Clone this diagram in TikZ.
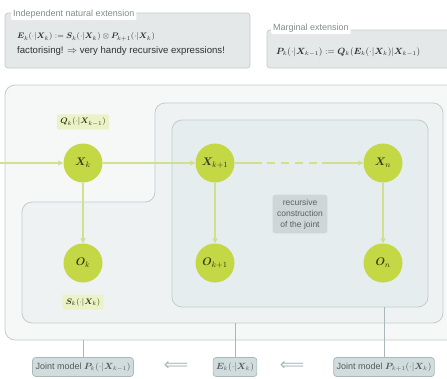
\documentclass[tikz,border=0pt]{standalone}
\usepackage{amsmath,bm}
\usepackage{fontspec}
\setmainfont{Liberation Sans}
\newfontfamily\symfont{DejaVu Sans}
\usetikzlibrary{arrows.meta}

\definecolor{boxline}{RGB}{196,204,204}
\definecolor{outerfill}{RGB}{246,247,247}
\definecolor{midfill}{RGB}{238,242,242}
\definecolor{innerfill}{RGB}{229,237,238}
\definecolor{topfill}{RGB}{228,232,232}
\definecolor{nodegreen}{RGB}{196,216,70}
\definecolor{nodetext}{RGB}{48,58,20}
\definecolor{flowgreen}{RGB}{208,224,140}
\definecolor{tagfill}{RGB}{236,242,200}
\definecolor{notefill}{RGB}{206,214,216}
\definecolor{notetext}{RGB}{90,98,100}
\definecolor{jointfill}{RGB}{208,220,222}
\definecolor{jointline}{RGB}{170,184,186}
\definecolor{tabtext}{RGB}{130,140,140}
\definecolor{bodytext}{RGB}{45,50,50}

\newcommand{\vX}{\bm{X}}
\newcommand{\vO}{\bm{O}}
\newcommand{\vE}{\bm{E}}
\newcommand{\vS}{\bm{S}}
\newcommand{\vP}{\bm{P}}
\newcommand{\vQ}{\bm{Q}}

\begin{document}
\begin{tikzpicture}[x=1pt,y=-1pt,
  frame/.style={draw=boxline, line width=0.8pt, rounded corners=10pt},
  panel/.style={draw=boxline, line width=0.7pt, fill=topfill, rounded corners=3pt},
  tab/.style={fill=white, rounded corners=2pt, inner sep=2pt, text=tabtext,
    font=\fontsize{9}{10}\selectfont, anchor=west},
  body/.style={anchor=west, inner sep=0pt, text=bodytext, font=\fontsize{8.3}{10}\selectfont},
  var/.style={circle, fill=nodegreen, minimum size=39pt, inner sep=0pt, text=nodetext,
    font=\fontsize{11}{12}\selectfont},
  flow/.style={draw=flowgreen, line width=1.4pt, -{Triangle[length=5pt,width=5pt]}},
  tag/.style={fill=tagfill, rounded corners=1.5pt, inner sep=3.5pt, text=nodetext,
    font=\fontsize{8.5}{9}\selectfont},
  note/.style={fill=notefill, rounded corners=3pt, inner sep=4.5pt, text=notetext, align=center,
    font=\fontsize{8.5}{11}\selectfont},
  joint/.style={draw=jointline, line width=0.7pt, fill=jointfill, rounded corners=3pt,
    inner sep=3pt, minimum height=19pt, text=bodytext!80!white, font=\fontsize{9}{10}\selectfont},
  link/.style={draw=jointline, line width=0.8pt},
  implies/.style={text=jointline, inner sep=0pt, font=\symfont\fontsize{17}{17}\selectfont}
]
\useasboundingbox (0,0) rectangle (447,378);
\clip (0,0) rectangle (447,378);

% header panels
\draw[panel] (5,13) rectangle (250,68);
\node[tab] (indtab) at (11,14) {Independent natural extension};
\node[body] (indeq) at (17,37)
  {$\vE_k(\cdot|\vX_k) := \vS_k(\cdot|\vX_k) \otimes \vP_{k+1}(\cdot|\vX_k)$};
\node[body, font=\fontsize{9.6}{10}\selectfont] (indnote) at (17,51)
  {factorising! $\Rightarrow$ very handy recursive expressions!};

\draw[panel] (267,30) rectangle (470,68);
\node[tab] (margtab) at (271,28) {Marginal extension};
\node[body, font=\fontsize{8.6}{10}\selectfont] (margeq) at (276,52)
  {$\vP_k(\cdot|\vX_{k-1}) := \vQ_k(\vE_k(\cdot|\vX_k)|\vX_{k-1})$};

% nested model regions
\draw[frame, fill=outerfill] (5,85) rectangle (470,340);
\draw[frame, fill=midfill] (22,202) -- (155,202) -- (155,103) -- (443,103)
  -- (443,323) -- (22,323) -- cycle;
\draw[frame, fill=innerfill] (172,120) rectangle (428,307);

\coordinate (outerfoot) at (83,340);
\coordinate (midfoot) at (235,323);
\coordinate (innerfoot) at (384,307);
\coordinate (inlet) at (0,163);

% variables
\node[var] (xk)  at (83,163)  {$\vX_k$};
\node[var] (xk1) at (215,163) {$\vX_{k+1}$};
\node[var] (xn)  at (383,163) {$\vX_n$};
\node[var] (ok)  at (83,263)  {$\vO_k$};
\node[var] (ok1) at (215,263) {$\vO_{k+1}$};
\node[var] (on)  at (383,263) {$\vO_n$};

\node[tag] (qtag) at (83,122) {$\vQ_k(\cdot|\vX_{k-1})$};
\node[tag] (stag) at (83,302) {$\vS_k(\cdot|\vX_k)$};

\node[note] (rec) at (300,214) {recursive\\construction\\of the joint};

% dependencies
\draw[flow] (inlet) -- (xk);
\draw[flow] (xk) -- (xk1);
\draw[flow, dash pattern=on 27pt off 5pt on 8pt off 6pt on 8pt off 6pt on 8pt off 6pt on 8pt off 5pt on 80pt]
  (xk1) -- (xn);
\draw[flow] (xk) -- (ok);
\draw[flow] (xk1) -- (ok1);
\draw[flow] (xn) -- (on);

% joint models
\node[joint] (jk)  at (83,367)  {Joint model $\vP_k(\cdot|\vX_{k-1})$};
\node[joint] (ek)  at (235,367) {$\vE_k(\cdot|\vX_k)$};
\node[joint] (jk1) at (384,367) {Joint model $\vP_{k+1}(\cdot|\vX_k)$};
\node[implies] (imp1) at (176,366) {⟸};
\node[implies] (imp2) at (292,366) {⟸};

\draw[link] (outerfoot) -- (jk);
\draw[link] (midfoot) -- (ek);
\draw[link] (innerfoot) -- (jk1);
\end{tikzpicture}
\end{document}
